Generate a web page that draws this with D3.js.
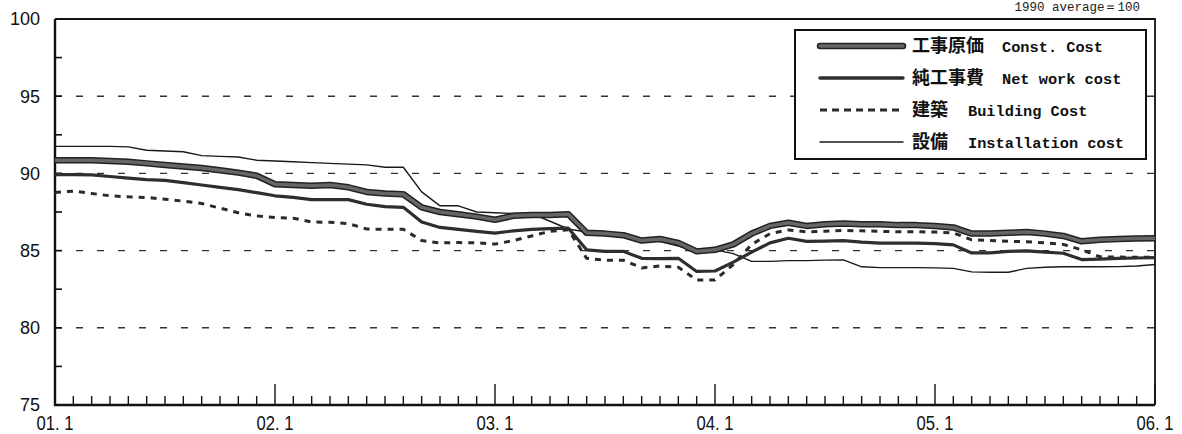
<!DOCTYPE html>
<html><head><meta charset="utf-8">
<script src="https://cdn.jsdelivr.net/npm/d3@7"></script>
<style>body{margin:0;background:#fff}svg{display:block}</style>
</head><body>
<svg id="c" width="1182" height="434"></svg>
<script>
// Monthly index, 2001.1 (0) … 2006.1 (60); 1990 average = 100
const monthCount = 61;
const yearLabels = ["01.1", "02.1", "03.1", "04.1", "05.1", "06.1"];
const yTickValues = [75, 80, 85, 90, 95, 100];
const gridValues = [80, 85, 90, 95];
const seriesNames = [
  ["工事原価", "Const. Cost"],
  ["純工事費", "Net work cost"],
  ["建築", "Building Cost"],
  ["設備", "Installation cost"]
];
const constCost = [90.85,90.85,90.85,90.8,90.75,90.65,90.55,90.45,90.35,90.2,90.05,89.85,
  89.3,89.25,89.2,89.25,89.1,88.8,88.7,88.65,87.8,87.5,87.35,87.2,
  87.0,87.25,87.3,87.3,87.35,86.15,86.1,86.0,85.65,85.75,85.5,84.95,
  85.05,85.4,86.1,86.6,86.8,86.6,86.7,86.75,86.7,86.7,86.65,86.65,
  86.6,86.5,86.1,86.1,86.15,86.2,86.1,85.95,85.6,85.7,85.75,85.78,85.8];
const netWork = [89.92,89.92,89.9,89.8,89.7,89.6,89.55,89.4,89.25,89.1,88.95,88.75,
  88.55,88.45,88.3,88.3,88.3,88.0,87.85,87.8,86.85,86.5,86.38,86.25,
  86.13,86.28,86.38,86.42,86.45,85.05,84.95,84.95,84.5,84.48,84.5,83.65,
  83.68,84.25,84.9,85.5,85.8,85.6,85.62,85.65,85.55,85.48,85.48,85.48,
  85.45,85.37,84.85,84.85,84.95,84.98,84.9,84.83,84.42,84.45,84.5,84.52,84.55];
const building = [88.77,88.85,88.7,88.55,88.48,88.44,88.33,88.2,88.05,87.75,87.45,87.25,
  87.15,87.1,86.85,86.84,86.75,86.4,86.38,86.38,85.65,85.5,85.52,85.5,
  85.42,85.65,85.95,86.25,86.35,84.5,84.38,84.38,83.88,84.0,83.92,83.1,
  83.1,84.1,85.4,86.1,86.34,86.22,86.25,86.3,86.28,86.25,86.22,86.22,
  86.2,86.15,85.7,85.65,85.6,85.58,85.5,85.4,85.05,84.6,84.58,84.57,84.57];
const installation = [91.75,91.75,91.75,91.75,91.72,91.5,91.45,91.4,91.15,91.1,91.06,90.85,
  90.8,90.75,90.7,90.65,90.6,90.55,90.4,90.4,88.8,87.9,87.9,87.5,
  87.45,87.4,87.4,86.9,86.4,86.2,86.1,86.0,85.7,85.6,85.3,85.0,
  85.05,84.8,84.3,84.3,84.35,84.35,84.38,84.4,83.95,83.9,83.9,83.9,
  83.88,83.85,83.62,83.6,83.6,83.85,83.92,83.95,83.95,83.95,83.96,84.0,84.1];

const svg = d3.select("#c");
const X0 = 55, X1 = 1155, Y0 = 405, Y1 = 19;
const x = d3.scaleLinear().domain([0, monthCount - 1]).range([X0, X1]);
const y = d3.scaleLinear().domain([75, 100]).range([Y0, Y1]);

// top caption
svg.append("text").attr("x", 1140).attr("y", 11).attr("text-anchor", "end")
  .attr("font-family", "'Liberation Mono', monospace").attr("font-size", 12.5)
  .attr("fill", "#222").text("1990 average＝100");

// grid
svg.append("g").selectAll("line").data(gridValues).join("line")
  .attr("x1", X0).attr("x2", X1).attr("y1", d => y(d)).attr("y2", d => y(d))
  .attr("stroke", "#333").attr("stroke-width", 1.4).attr("stroke-dasharray", "7,14");

// y minor ticks (every 2.5)
svg.append("g").selectAll("line").data(d3.range(75, 100.01, 2.5)).join("line")
  .attr("x1", X0).attr("x2", X0 + 7).attr("y1", d => y(d)).attr("y2", d => y(d))
  .attr("stroke", "#111").attr("stroke-width", 1.6);

// y labels
svg.append("g").selectAll("text").data(yTickValues).join("text")
  .attr("x", 40).attr("y", d => y(d)).attr("dy", "0.35em").attr("text-anchor", "end")
  .attr("font-family", "'Liberation Sans', Arial, sans-serif").attr("font-size", 18)
  .attr("fill", "#111").text(d => d);

// x ticks
svg.append("g").selectAll("line").data(d3.range(monthCount)).join("line")
  .attr("x1", d => x(d)).attr("x2", d => x(d)).attr("y1", Y0)
  .attr("y2", d => Y0 - (d % 12 === 0 ? 21 : 9))
  .attr("stroke", "#111").attr("stroke-width", 1.4);

// x labels
svg.append("g").selectAll("text").data(yearLabels).join("text")
  .attr("x", (d, i) => x(i * 12)).attr("y", 430).attr("text-anchor", "middle")
  .attr("font-family", "'Liberation Sans', Arial, sans-serif").attr("font-size", 20)
  .attr("textLength", 37).attr("lengthAdjust", "spacingAndGlyphs")
  .attr("fill", "#111").text(d => d.replace(".", ". "));

// frame
svg.append("path").attr("d", `M${X0},${Y1}H${X1}V${Y0}`).attr("fill", "none")
  .attr("stroke", "#111").attr("stroke-width", 1.8);
svg.append("path").attr("d", `M${X0},${Y1}V${Y0}H${X1}`).attr("fill", "none")
  .attr("stroke", "#111").attr("stroke-width", 2.4);

// lines
const line = d3.line().x((d, i) => x(i)).y(d => y(d));
const plot = svg.append("g").attr("fill", "none").attr("stroke-linejoin", "round");
plot.append("path").datum(installation).attr("d", line).attr("stroke", "#1a1a1a").attr("stroke-width", 1.4);
plot.append("path").datum(building).attr("d", line).attr("stroke", "#2a2a2a").attr("stroke-width", 3).attr("stroke-dasharray", "6,6");
plot.append("path").datum(netWork).attr("d", line).attr("stroke", "#2e2e2e").attr("stroke-width", 3.2);
plot.append("path").datum(constCost).attr("d", line).attr("stroke", "#222").attr("stroke-width", 6.5);
plot.append("path").datum(constCost).attr("d", line).attr("stroke", "#666").attr("stroke-width", 3.5);

// legend
const lg = svg.append("g");
lg.append("rect").attr("x", 795).attr("y", 30).attr("width", 351).attr("height", 129)
  .attr("fill", "#fff").attr("stroke", "#111").attr("stroke-width", 2);
const rowY = [46, 78, 110, 142];
const styles = [
  [{c: "#222", w: 6.5}, {c: "#666", w: 3.5}],
  [{c: "#2e2e2e", w: 3.5}],
  [{c: "#2a2a2a", w: 3, dash: "7,5"}],
  [{c: "#1a1a1a", w: 1.4}]
];
seriesNames.forEach((nm, i) => {
  styles[i].forEach(s => {
    lg.append("line").attr("x1", 820).attr("x2", 903).attr("y1", rowY[i]).attr("y2", rowY[i])
      .attr("stroke", s.c).attr("stroke-width", s.w).attr("stroke-dasharray", s.dash || null)
      .attr("stroke-linecap", s.dash ? "butt" : "round");
  });
  const t = lg.append("text").attr("x", 912).attr("y", rowY[i]).attr("dy", "0.36em").attr("fill", "#111");
  t.append("tspan").attr("font-family", "'Noto Sans CJK JP', sans-serif").attr("font-size", 18)
    .attr("font-weight", 700).text(nm[0]);
  t.append("tspan").attr("font-family", "'Liberation Mono', monospace").attr("font-size", 15.3)
    .attr("font-weight", 700).attr("dx", nm[0].length === 4 ? 18 : 20).text(nm[1]);
});
</script>
</body></html>
